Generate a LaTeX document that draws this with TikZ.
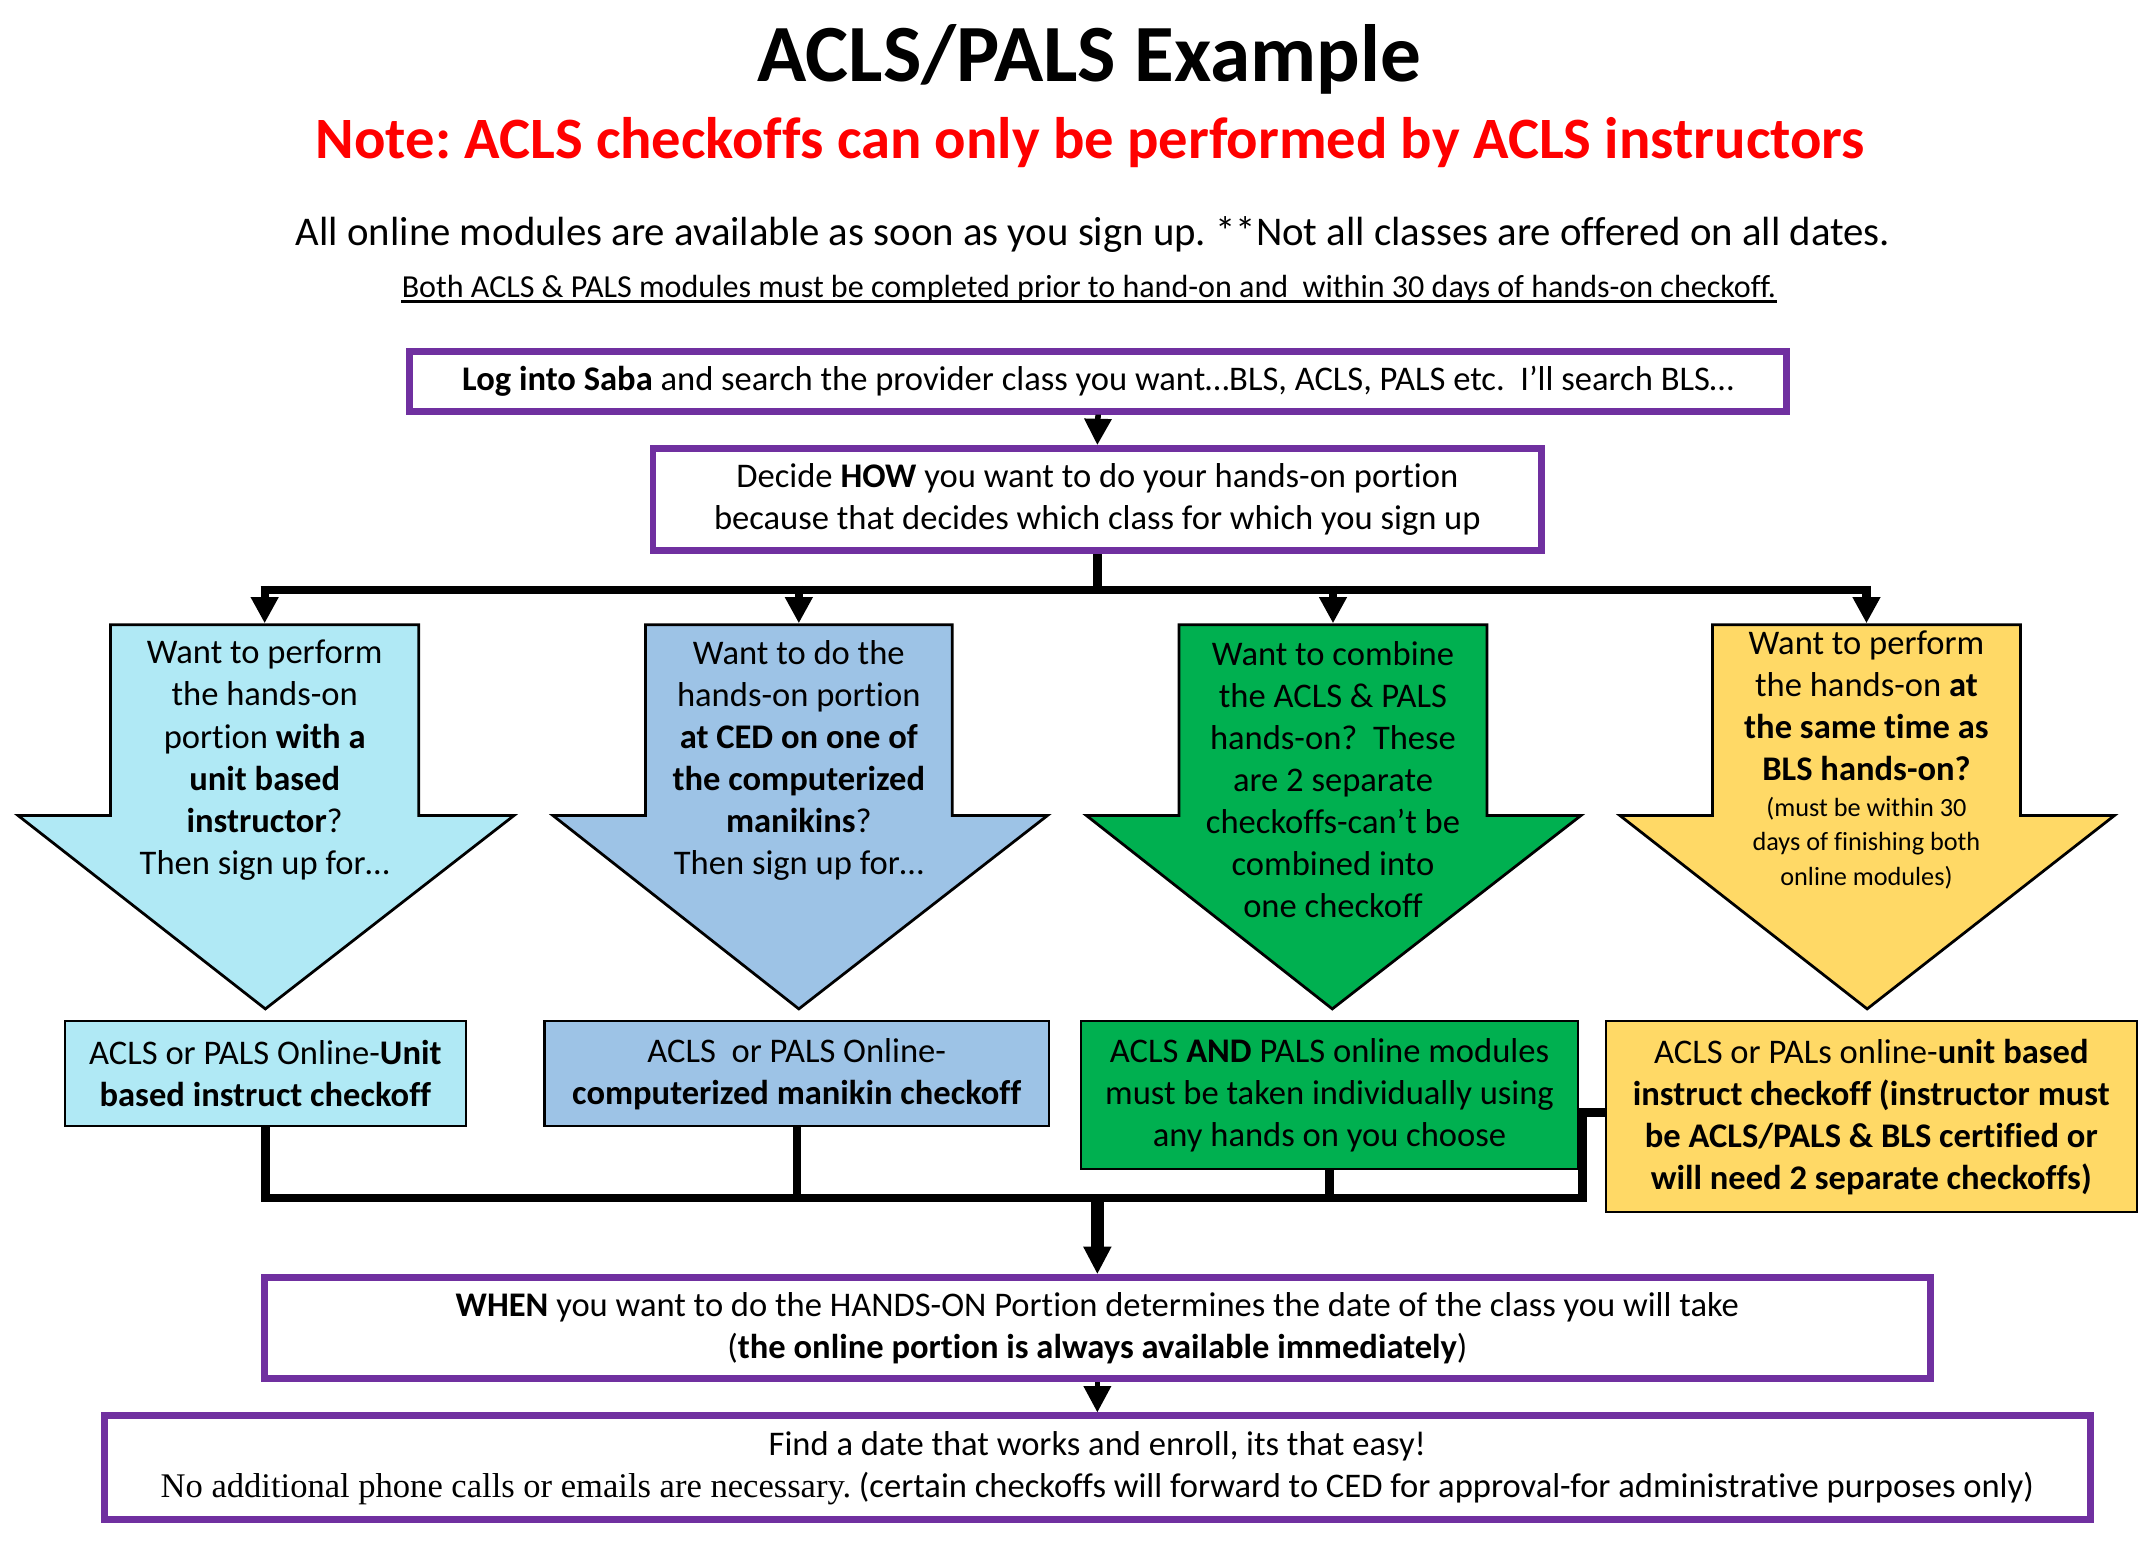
\documentclass[tikz,border=0pt]{standalone}
\usepackage{fontspec}
\setmainfont{Carlito}[Ligatures={NoCommon}]
\newfontfamily\serifpart{Liberation Serif}
\usetikzlibrary{arrows.meta}
\definecolor{purp}{HTML}{7030A0}
\definecolor{cyanf}{HTML}{B0E9F5}
\definecolor{bluef}{HTML}{9DC3E6}
\definecolor{greenf}{HTML}{00B050}
\definecolor{yellowf}{HTML}{FFD966}
\definecolor{redt}{HTML}{FF0000}
\newcommand{\fsz}[2]{\fontsize{#1}{#2}\selectfont}
\frenchspacing
\begin{document}
\begin{tikzpicture}[x=1pt,y=-1pt,
  pbox/.style={draw=purp,line width=5pt,fill=white,inner sep=0pt,align=center,font=\fsz{25}{30.4}},
  cbox/.style={draw=black,line width=1.5pt,inner sep=0pt,align=center,font=\fsz{25}{30.4}},
  ashape/.style={draw=black,line width=2pt,line join=miter},
  atext/.style={align=center,inner sep=0pt,font=\fsz{25}{30.4}},
  bus/.style={line width=6pt,line join=miter},
  conn/.style={line width=6pt,-{Triangle[width=19pt,length=19pt]}},
  fatconn/.style={line width=9pt,-{Triangle[width=19pt,length=20pt]}},
  thinconn/.style={line width=4pt,-{Triangle[width=19pt,length=19pt]}},
]
\useasboundingbox (0,0) rectangle (1560,1116);

% headings
\node[font=\fsz{58.8}{62}\bfseries] (title) at (788,43) {ACLS/PALS Example};
\node[font=\fsz{42.4}{46}\bfseries,text=redt] (note) at (789,103) {Note: ACLS checkoffs can only be performed by ACLS instructors};
\node[font=\fsz{29.5}{32}] (info) at (791,170) {All online modules are available as soon as you sign up. **Not all classes are offered on all dates.};
\node[font=\fsz{23.2}{27},inner sep=0pt] (ul) at (788,209) {Both ACLS \& PALS modules must be completed prior to hand-on and\ \ within 30 days of hands-on checkoff.};
\draw[line width=1.6pt] ([yshift=-3pt]ul.base west) -- ([yshift=-3pt]ul.base east);

% top boxes
\node[pbox,minimum width=996pt,minimum height=43pt] (b1) at (794.5,276) {\textbf{Log into Saba} and search the provider class you want…BLS, ACLS, PALS etc.\ \ I’ll search BLS…};
\node[pbox,minimum width=643pt,minimum height=74pt] (b2) at (794,361.5) {Decide \textbf{HOW} you want to do your hands-on portion\\because that decides which class for which you sign up};
\draw[thinconn] (b1.south) -- (b2.north);

% arrow shapes
\draw[ashape,fill=cyanf] (80,452) -- (303,452) -- (303,590) -- (372,590) -- (192,730) -- (13,590) -- (80,590) -- cycle;
\draw[ashape,fill=bluef] (467,452) -- (689,452) -- (689,590) -- (758,590) -- (578,730) -- (400,590) -- (467,590) -- cycle;
\draw[ashape,fill=greenf] (853,452) -- (1076,452) -- (1076,590) -- (1144,590) -- (964,730) -- (786,590) -- (853,590) -- cycle;
\draw[ashape,fill=yellowf] (1239,452) -- (1462,452) -- (1462,590) -- (1530,590) -- (1351,730) -- (1172,590) -- (1239,590) -- cycle;

\coordinate (top1) at (191.5,451);
\coordinate (top2) at (578,451);
\coordinate (top3) at (964.5,451);
\coordinate (top4) at (1350.5,451);
\coordinate (j0) at (794,427);

\draw[bus] (b2.south) -- (j0);
\draw[bus] ([xshift=-3pt]top1 |- j0) -- ([xshift=3pt]top4 |- j0);
\draw[conn] ([yshift=3pt]top1 |- j0) -- (top1);
\draw[conn] ([yshift=3pt]top2 |- j0) -- (top2);
\draw[conn] ([yshift=3pt]top3 |- j0) -- (top3);
\draw[conn] ([yshift=3pt]top4 |- j0) -- (top4);

% arrow texts
\node[atext] (t1) at (191.5,550) {Want to perform\\the hands-on\\portion \textbf{with a}\\\textbf{unit based}\\\textbf{instructor}?\\Then sign up for…};
\node[atext] (t2) at (578,550) {Want to do the\\hands-on portion\\\textbf{at CED on one of}\\\textbf{the computerized}\\\textbf{manikins}?\\Then sign up for…};
\node[atext] (t3) at (964.5,564) {Want to combine\\the ACLS \& PALS\\hands-on?\ \ These\\are 2 separate\\checkoffs-can’t be\\combined into\\one checkoff};
\node[atext] (t4) at (1350.5,510.5) {Want to perform\\the hands-on \textbf{at}\\\textbf{the same time as}\\\textbf{BLS hands-on?}};
\node[atext,font=\fsz{19}{25}] (t4b) at (1350.5,610) {(must be within 30\\days of finishing both\\online modules)};

% result boxes
\node[cbox,fill=cyanf,minimum width=290pt,minimum height=76pt] (bA) at (192,777) {ACLS or PALS Online-\textbf{Unit}\\\textbf{based instruct checkoff}};
\node[cbox,fill=bluef,minimum width=365pt,minimum height=76pt] (bB) at (576.5,777) {ACLS\ \ or PALS Online-\\\textbf{computerized manikin checkoff}};
\node[cbox,fill=greenf,minimum width=360pt,minimum height=107pt] (bC) at (962,792.5) {ACLS \textbf{AND} PALS online modules\\must be taken individually using\\any hands on you choose};
\node[cbox,fill=yellowf,minimum width=384pt,minimum height=138pt] (bD) at (1354,808) {ACLS or PALs online-\textbf{unit based}\\\textbf{instruct checkoff (instructor must}\\\textbf{be ACLS/PALS \& BLS certified or}\\\textbf{will need 2 separate checkoffs)}};

% bottom boxes
\node[pbox,minimum width=1205pt,minimum height=73pt] (bE) at (794,961) {\textbf{WHEN} you want to do the HANDS-ON Portion determines the date of the class you will take\\(\textbf{the online portion is always available immediately})};
\node[pbox,minimum width=1437pt,minimum height=75pt] (bF) at (794,1062) {Find a date that works and enroll, its that easy!\\{\serifpart No additional phone calls or emails are necessary.} (certain checkoffs will forward to CED for approval-for administrative purposes only)};

% lower connectors
\coordinate (k) at (1145,867);
\coordinate (k0) at (794,867);
\draw[bus] ([yshift=3pt]bD.west) -| (k) -- (bA.south |- k) -- (bA.south);
\draw[bus] (bB.south) -- (bB.south |- k);
\draw[bus] (bC.south) -- (bC.south |- k);
\draw[fatconn] (k0) -- (bE.north);
\draw[thinconn] (bE.south) -- (bF.north);
\end{tikzpicture}
\end{document}
